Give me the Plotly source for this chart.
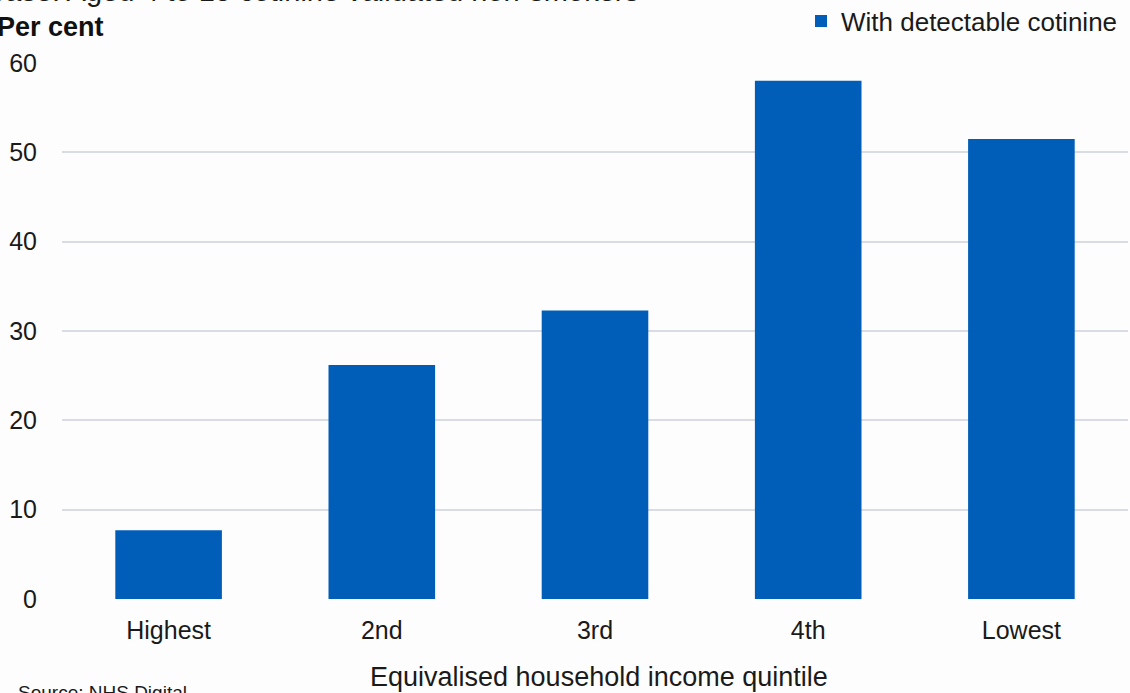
import plotly.graph_objects as go

categories = ["Highest", "2nd", "3rd", "4th", "Lowest"]
values = [7.7, 26.2, 32.3, 58.0, 51.5]
series_name = "With detectable cotinine"
y_ticks = [0, 10, 20, 30, 40, 50, 60]

W, H = 1130, 693
ML, MR, MT, MB = 62, 2, 63, 94
PW, PH = W - ML - MR, H - MT - MB

def px_x(x):
    return (x - ML) / PW

def px_y(y):
    return (H - MB - y) / PH

font = "Liberation Sans, Arial, sans-serif"

fig = go.Figure(go.Bar(
    x=categories, y=values, name=series_name,
    marker=dict(color="#005EB8", line=dict(width=0)),
    showlegend=True,
))

fig.update_layout(
    width=W, height=H,
    margin=dict(l=ML, r=MR, t=MT, b=MB, autoexpand=False),
    paper_bgcolor="#fdfdfd", plot_bgcolor="#fdfdfd",
    bargap=0.5,
    font=dict(family=font, size=24, color="#1a1a1a"),
    xaxis=dict(showgrid=False, showline=False, ticks="",
               tickfont=dict(size=25), title=None, ticklabelstandoff=14),
    yaxis=dict(range=[0, 60], tickvals=y_ticks, showgrid=True,
               gridcolor="#d9dde3", gridwidth=2, zeroline=False,
               ticks="", tickfont=dict(size=25), ticklabelstandoff=24),
    legend=dict(x=px_x(801), y=px_y(21), xanchor="left", yanchor="middle",
                bgcolor="rgba(0,0,0,0)", font=dict(size=26),
                itemwidth=30),
    showlegend=True,
)

fig.add_annotation(text="Base: Aged 4 to 15 cotinine validated non-smokers",
                   xref="paper", yref="paper", x=px_x(-16), y=px_y(9),
                   xanchor="left", yanchor="bottom", showarrow=False,
                   font=dict(size=29))
fig.add_annotation(text="<b>Per cent</b>", xref="paper", yref="paper",
                   x=px_x(-5), y=px_y(27), xanchor="left", yanchor="middle",
                   showarrow=False, font=dict(size=27, color="#111"))
fig.add_annotation(text="Equivalised household income quintile",
                   xref="paper", yref="paper", x=px_x(599), y=px_y(677),
                   xanchor="center", yanchor="middle", showarrow=False,
                   font=dict(size=27))
fig.add_annotation(text="Source: NHS Digital", xref="paper", yref="paper",
                   x=px_x(16), y=px_y(680), xanchor="left", yanchor="top",
                   showarrow=False, font=dict(size=19))

fig.write_html("out.html")
